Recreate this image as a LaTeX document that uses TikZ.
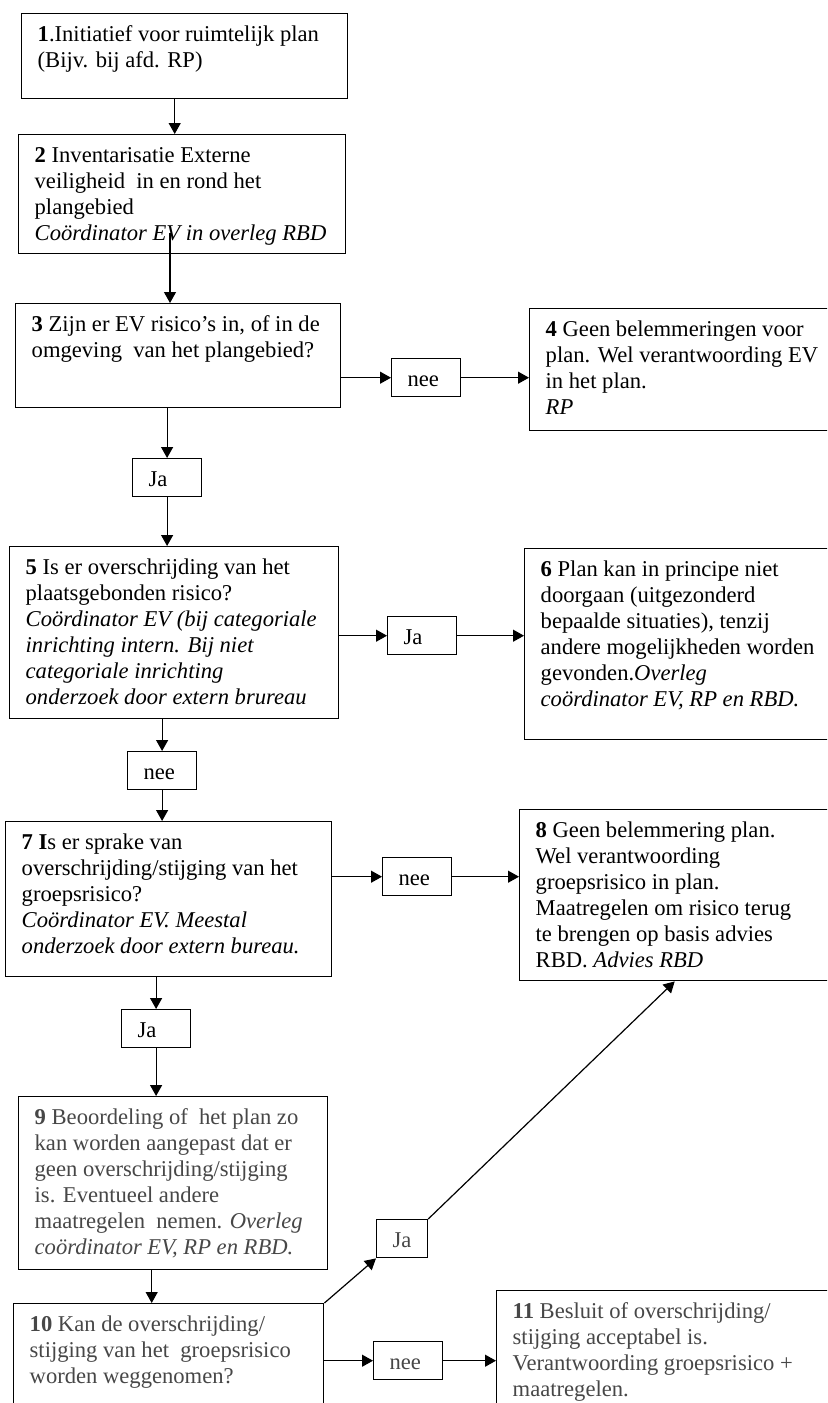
\documentclass[tikz,border=0pt]{standalone}
\usepackage{fontspec}
\setmainfont{Liberation Serif}
\usetikzlibrary{arrows.meta, calc}
\newcommand{\kader}[3]{\parbox[t][#2][t]{#1}{\begin{tabular}[t]{@{}l@{}}#3\end{tabular}}}
\tikzset{
	stap/.style={draw, line width=.7pt, anchor=north west, inner xsep=8pt, inner ysep=5pt, font=\fontsize{11.3}{13}\selectfont},
	keuze/.style={stap, line width=.6pt},
	vaag/.style={text=black!72},
	pijl/.style={->, line width=.6pt}
}
\begin{document}
\begin{tikzpicture}[x=.5pt, y=-.5pt, >={Triangle[length=5.5pt, width=6pt]}]
	\useasboundingbox (0,0) rectangle (827,1403);
	\clip (0,0) rectangle (827,1403);
	\fill[white] (0,0) rectangle (827,1403);

	\node[stap] (box1) at (21,13) {\kader{147pt}{32.5pt}{\textbf{1}.Initiatief voor ruimtelijk plan\\(Bijv. bij afd. RP)}};
	\node[stap] (box2) at (18,134) {\kader{147.5pt}{49.5pt}{\textbf{2} Inventarisatie Externe\\veiligheid\ \ in en rond het\\plangebied\\\textit{Coördinator EV in overleg RBD}}};
	\node[stap] (box3) at (15,303) {\kader{146.5pt}{42pt}{\textbf{3} Zijn er EV risico’s in, of in de\\omgeving\ \ van het plangebied?}};
	\node[stap] (box4) at (529,308) {\kader{139pt}{51pt}{\textbf{4} Geen belemmeringen voor\\plan. Wel verantwoording EV\\in het plan.\\\textit{RP}}};
	\node[stap] (box5) at (9,546) {\kader{148.5pt}{76pt}{\textbf{5} Is er overschrijding van het\\plaatsgebonden risico?\\\textit{Coördinator EV (bij categoriale}\\\textit{inrichting intern. Bij niet}\\\textit{categoriale inrichting}\\\textit{onderzoek door extern brureau}}};
	\node[stap] (box6) at (524,548) {\kader{139pt}{85.5pt}{\textbf{6} Plan kan in principe niet\\doorgaan (uitgezonderd\\bepaalde situaties), tenzij\\andere mogelijkheden worden\\gevonden.\textit{Overleg}\\\textit{coördinator EV, RP en RBD.}}};
	\node[stap] (box7) at (5,821) {\kader{147pt}{67.5pt}{\textbf{7 I}s er sprake van\\overschrijding/stijging van het\\groepsrisico?\\\textit{Coördinator EV. Meestal}\\\textit{onderzoek door extern bureau.}}};
	\node[stap] (box8) at (519,809) {\kader{139pt}{75.5pt}{\textbf{8} Geen belemmering plan.\\Wel verantwoording\\groepsrisico in plan.\\Maatregelen om risico terug\\te brengen op basis advies\\RBD. \textit{Advies RBD}}};
	\node[stap, vaag] (box9) at (18,1096) {\kader{138.5pt}{76.5pt}{\textbf{9} Beoordeling of\ \ het plan zo\\kan worden aangepast dat er\\geen overschrijding/stijging\\is. Eventueel andere\\maatregelen\ \ nemen. \textit{Overleg}\\\textit{coördinator EV, RP en RBD.}}};
	\node[stap, vaag] (box10) at (13,1303) {\kader{139pt}{50pt}{\textbf{10} Kan de overschrijding/\\stijging van het\ \ groepsrisico\\worden weggenomen?}};
	\node[stap, vaag] (box11) at (496,1290) {\kader{154pt}{50pt}{\textbf{11} Besluit of overschrijding/\\stijging acceptabel is.\\Verantwoording groepsrisico +\\maatregelen.}};

	\node[keuze] (nee3) at (391,358) {\kader{18.5pt}{7.5pt}{nee}};
	\node[keuze] (ja3) at (132,458) {\kader{18.5pt}{7.5pt}{Ja}};
	\node[keuze] (ja5) at (387,616) {\kader{18.5pt}{7.5pt}{Ja}};
	\node[keuze] (nee5) at (127,751) {\kader{18.5pt}{7.5pt}{nee}};
	\node[keuze] (nee7) at (382,857) {\kader{18.5pt}{7.5pt}{nee}};
	\node[keuze] (ja7) at (121,1009) {\kader{18.5pt}{7.5pt}{Ja}};
	\node[keuze, vaag] (ja9) at (376,1219) {\kader{9.5pt}{8pt}{Ja}};
	\node[keuze, vaag] (nee10) at (373,1341) {\kader{18.5pt}{7.5pt}{nee}};

	\coordinate (a1) at ([xshift=-5pt]box1.south);
	\coordinate (a2) at (170,233);
	\coordinate (a9) at ([xshift=-10.75pt]box9.south);
	\draw[pijl] (a1) -- (a1 |- box2.north);
	\draw[pijl] (a2) -- (a2 |- box3.north);
	\draw[pijl] (nee3.west -| box3.east) -- (nee3.west);
	\draw[pijl] (nee3.east) -- (nee3.east -| box4.west);
	\draw[pijl] (box3.south -| ja3.north) -- (ja3.north);
	\draw[pijl] (ja3.south) -- (ja3.south |- box5.north);
	\draw[pijl] (ja5.west -| box5.east) -- (ja5.west);
	\draw[pijl] (ja5.east) -- (ja5.east -| box6.west);
	\draw[pijl] (box5.south -| nee5.north) -- (nee5.north);
	\draw[pijl] (nee5.south) -- (nee5.south |- box7.north);
	\draw[pijl] (nee7.west -| box7.east) -- (nee7.west);
	\draw[pijl] (nee7.east) -- (nee7.east -| box8.west);
	\draw[pijl] (box7.south -| ja7.north) -- (ja7.north);
	\draw[pijl] (ja7.south) -- (ja7.south |- box9.north);
	\draw[pijl] (a9) -- (a9 |- box10.north);
	\draw[pijl] (box10.north east) -- (ja9.south west);
	\draw[pijl] (ja9.north east) -- (box8.south);
	\draw[pijl] (nee10.west -| box10.east) -- (nee10.west);
	\draw[pijl] (nee10.east) -- (nee10.east -| box11.west);
\end{tikzpicture}
\end{document}
